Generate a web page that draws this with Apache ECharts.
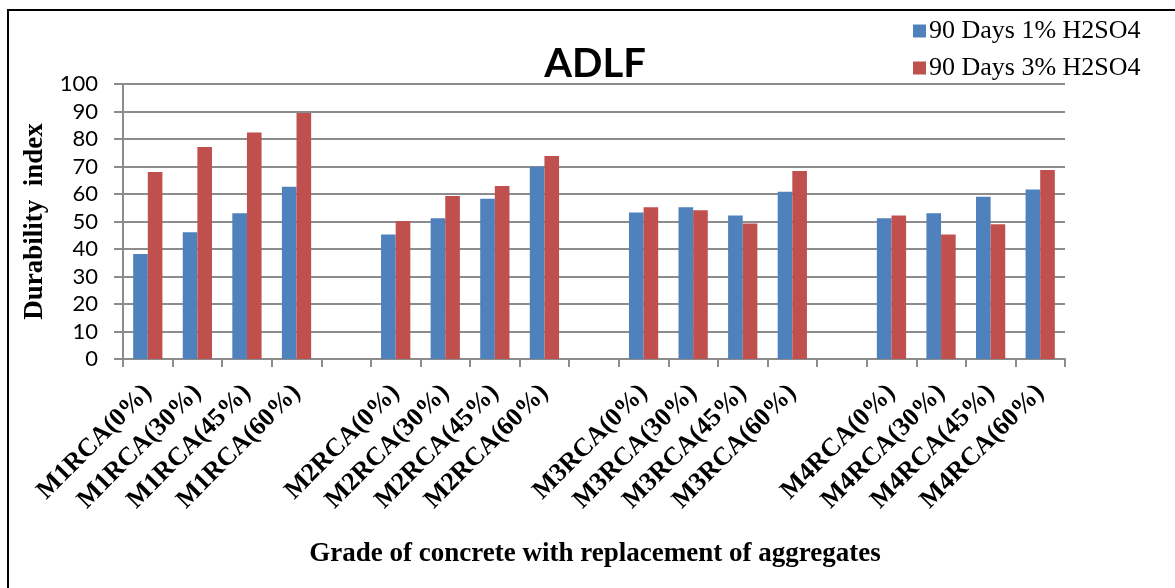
<!DOCTYPE html>
<html>
<head>
<meta charset="utf-8">
<title>ADLF</title>
<script src="https://cdn.jsdelivr.net/npm/echarts@6/dist/echarts.min.js"></script>
<style>
  html, body { margin: 0; padding: 0; background: #ffffff; }
  #chart { width: 1175px; height: 588px; }
</style>
</head>
<body>
<div id="chart"></div>
<script>
// Mix designs, with an empty slot between each concrete grade
const categories = [
  'M1RCA(0%)', 'M1RCA(30%)', 'M1RCA(45%)', 'M1RCA(60%)', '',
  'M2RCA(0%)', 'M2RCA(30%)', 'M2RCA(45%)', 'M2RCA(60%)', '',
  'M3RCA(0%)', 'M3RCA(30%)', 'M3RCA(45%)', 'M3RCA(60%)', '',
  'M4RCA(0%)', 'M4RCA(30%)', 'M4RCA(45%)', 'M4RCA(60%)'
];

// Durability index after 90 days in 1% H2SO4
const acid1Values = [
  38.2, 46.1, 53.0, 62.6, null,
  45.3, 51.2, 58.3, 69.9, null,
  53.3, 55.2, 52.2, 60.8, null,
  51.2, 53.0, 59.0, 61.6
];

// Durability index after 90 days in 3% H2SO4
const acid3Values = [
  68.0, 77.1, 82.4, 89.5, null,
  50.2, 59.3, 62.9, 73.8, null,
  55.2, 54.1, 49.3, 68.4, null,
  52.2, 45.3, 49.0, 68.7
];

const seriesNames = ['90 Days 1% H2SO4', '90 Days 3% H2SO4'];
const yTicks = { min: 0, max: 100, interval: 10 };

const gridColor = '#8c8c8c';
const serif = '"Liberation Serif", "Times New Roman", serif';

const chart = echarts.init(document.getElementById('chart'), null, { renderer: 'canvas' });

chart.setOption({
  animation: false,
  backgroundColor: '#ffffff',
  title: {
    text: 'ADLF',
    left: 590,
    top: 39,
    textAlign: 'center',
    textStyle: { fontFamily: 'Lato', fontWeight: 'bold', fontSize: 40, color: '#000000' }
  },
  legend: {
    orient: 'vertical',
    left: 908,
    top: 13,
    itemWidth: 13,
    itemHeight: 13,
    itemGap: 11,
    icon: 'rect',
    textStyle: { fontFamily: serif, fontSize: 26, color: '#000000', padding: [0, 0, 0, -2] },
    data: seriesNames
  },
  graphic: [{
    type: 'polyline',
    shape: { points: [[8, 590], [8, 10], [1177, 10]] },
    style: { stroke: '#000000', lineWidth: 2, fill: null },
    silent: true
  }],
  grid: { left: 123, right: 110, top: 84, bottom: 229, containLabel: false },
  xAxis: {
    type: 'category',
    data: categories,
    boundaryGap: true,
    name: 'Grade of concrete with replacement of aggregates',
    nameLocation: 'middle',
    nameGap: 182,
    nameTextStyle: { fontFamily: serif, fontWeight: 'bold', fontSize: 27, color: '#000000', padding: [0, 0, 0, 2] },
    axisLine: { show: true, lineStyle: { color: gridColor, width: 2 } },
    axisTick: { show: true, length: 8, alignWithLabel: false, interval: 0, lineStyle: { color: gridColor, width: 2 } },
    axisLabel: {
      interval: 0,
      rotate: 45,
      margin: 30,
      fontFamily: serif,
      fontWeight: 'bold',
      fontSize: 26,
      color: '#000000'
    },
    splitLine: { show: false }
  },
  yAxis: {
    type: 'value',
    min: yTicks.min,
    max: yTicks.max,
    interval: yTicks.interval,
    name: 'Durability  index',
    nameLocation: 'middle',
    nameGap: 73,
    nameRotate: 90,
    nameTextStyle: { fontFamily: serif, fontWeight: 'bold', fontSize: 27, color: '#000000' },
    axisLine: { show: true, lineStyle: { color: gridColor, width: 2 } },
    axisTick: { show: true, length: 9, inside: false, lineStyle: { color: gridColor, width: 2 } },
    axisLabel: { margin: 25, fontFamily: 'Lato', fontSize: 22, color: '#000000' },
    splitLine: { show: true, lineStyle: { color: gridColor, width: 2 } }
  },
  series: [
    {
      name: seriesNames[0],
      type: 'bar',
      data: acid1Values,
      barGap: '0%',
      barCategoryGap: '41%',
      itemStyle: { color: '#4f81bd' }
    },
    {
      name: seriesNames[1],
      type: 'bar',
      data: acid3Values,
      barGap: '0%',
      barCategoryGap: '41%',
      itemStyle: { color: '#c0504d' }
    }
  ]
});
</script>
</body>
</html>
